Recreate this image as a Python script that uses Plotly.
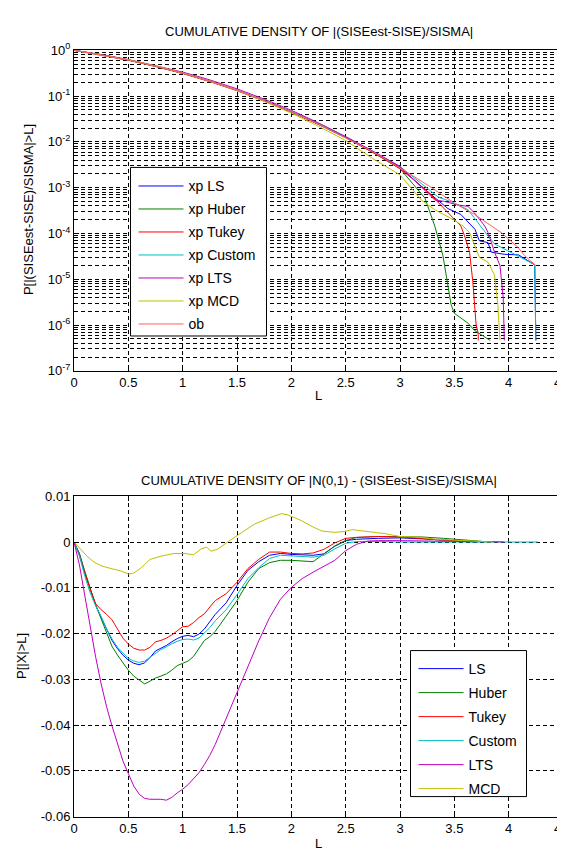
import plotly.graph_objects as go

# ---------------- Top chart data: P[|(SISEest-SISE)/SISMA|>L] ----------------
top_L_ls = [0, 0.25, 0.5, 0.75, 1.0, 1.25, 1.5, 1.75, 2.0, 2.25, 2.5, 2.75, 3.0,
            3.2, 3.44, 3.56, 3.69, 3.73, 3.81, 3.84, 3.96, 4.09, 4.22, 4.24, 4.25]
top_P_ls = [1.0, 0.80, 0.615, 0.452, 0.318, 0.212, 0.134, 0.080, 0.0458, 0.0246, 0.0125, 0.0061, 0.0028,
            1.05e-3, 3.5e-4, 2.6e-4, 1.23e-4, 6.9e-5, 6.3e-5, 3.9e-5, 3.5e-5, 3.4e-5, 2.2e-5, 2.0e-5, 4.6e-7]

top_L_huber = [0, 0.25, 0.5, 0.75, 1.0, 1.25, 1.5, 1.75, 2.0, 2.25, 2.5, 2.75, 3.0,
               3.23, 3.32, 3.395, 3.425, 3.44, 3.47, 3.50, 3.625, 3.686, 3.83]
top_P_huber = [1.0, 0.80, 0.612, 0.449, 0.315, 0.210, 0.133, 0.079, 0.0452, 0.0243, 0.0124, 0.0059, 0.0026,
               5.9e-4, 1.45e-4, 3.3e-5, 1.23e-5, 6.3e-6, 2.8e-6, 1.8e-6, 1.1e-6, 7.6e-7, 4.6e-7]

top_L_tukey = [0, 0.25, 0.5, 0.75, 1.0, 1.25, 1.5, 1.75, 2.0, 2.25, 2.5, 2.75, 3.0,
               3.25, 3.50, 3.56, 3.594, 3.64, 3.67, 3.70, 3.72, 3.72]
top_P_tukey = [1.0, 0.79, 0.605, 0.443, 0.311, 0.207, 0.131, 0.078, 0.0447, 0.0241, 0.0123, 0.0059, 0.0026,
               8.5e-4, 2.0e-4, 1.45e-4, 8.9e-5, 3.9e-5, 8.9e-6, 1.05e-6, 6.3e-7, 4.6e-7]

top_L_custom = [0, 0.25, 0.5, 0.75, 1.0, 1.25, 1.5, 1.75, 2.0, 2.25, 2.5, 2.75, 3.0,
                3.195, 3.35, 3.5, 3.625, 3.81, 3.87, 3.99, 4.115, 4.22, 4.24, 4.25]
top_P_custom = [1.0, 0.80, 0.614, 0.451, 0.317, 0.212, 0.134, 0.080, 0.0458, 0.0247, 0.0126, 0.0062, 0.0029,
                1.23e-3, 6.3e-4, 4.6e-4, 3.3e-4, 8.9e-5, 5.9e-5, 4.2e-5, 3.0e-5, 2.2e-5, 2.0e-5, 4.6e-7]

top_L_lts = [0, 0.25, 0.5, 0.75, 1.0, 1.25, 1.5, 1.75, 2.0, 2.25, 2.5, 2.75, 3.0,
             3.32, 3.41, 3.53, 3.625, 3.686, 3.78, 3.81, 3.87, 3.92, 3.95, 3.96]
top_P_lts = [1.0, 0.81, 0.63, 0.468, 0.335, 0.226, 0.144, 0.086, 0.049, 0.026, 0.0131, 0.0063, 0.0029,
             5.4e-4, 5.0e-4, 4.2e-4, 3.9e-4, 2.8e-4, 1.45e-4, 1.05e-4, 3.9e-5, 2.0e-5, 3.9e-6, 4.6e-7]

top_L_mcd = [0, 0.25, 0.5, 0.75, 1.0, 1.25, 1.5, 1.75, 2.0, 2.25, 2.5, 2.75, 3.0,
             3.195, 3.32, 3.5, 3.58, 3.64, 3.73, 3.81, 3.87, 3.90, 3.92]
top_P_mcd = [1.0, 0.80, 0.62, 0.457, 0.321, 0.213, 0.133, 0.077, 0.0425, 0.0220, 0.0107, 0.0043, 0.0019,
             5.4e-4, 3.3e-4, 1.95e-4, 1.45e-4, 1.05e-4, 3.0e-5, 2.35e-5, 1.23e-5, 2.8e-6, 4.6e-7]

top_L_ob = [0, 0.25, 0.5, 0.75, 1.0, 1.25, 1.5, 1.75, 2.0, 2.25, 2.5, 2.75, 3.0,
            3.26, 3.5, 3.686, 3.93, 4.085, 4.146, 4.25]
top_P_ob = [1.0, 0.80, 0.617, 0.455, 0.317, 0.211, 0.134, 0.080, 0.0455, 0.0244, 0.0124, 0.0061, 0.0027,
            1.12e-3, 4.6e-4, 2.6e-4, 1.05e-4, 5.0e-5, 3.3e-5, 2.0e-5]

# ---------------- Bottom chart data: P[|X|>L] difference ----------------
bot_L_ls = [0, 0.05, 0.1, 0.15, 0.2, 0.25, 0.3, 0.35, 0.4, 0.45, 0.5, 0.55, 0.6, 0.65, 0.7, 0.75, 0.8, 0.85,
            0.9, 0.95, 1.0, 1.05, 1.1, 1.15, 1.2, 1.25, 1.3, 1.4, 1.5, 1.6, 1.7, 1.8, 1.9, 2.0, 2.1, 2.2, 2.3,
            2.4, 2.5, 2.6, 2.8, 3.0, 3.2, 3.4, 3.6, 3.7]
bot_v_ls = [0, -0.0025, -0.0068, -0.0105, -0.0138, -0.0165, -0.0192, -0.0215, -0.0233, -0.0247, -0.0258,
            -0.0265, -0.0268, -0.0264, -0.0252, -0.0238, -0.0232, -0.0226, -0.0218, -0.0211, -0.0206, -0.0204,
            -0.0207, -0.0201, -0.0190, -0.0174, -0.0158, -0.0133, -0.0095, -0.0062, -0.0043, -0.0029, -0.0025,
            -0.0027, -0.0028, -0.0029, -0.0026, -0.0009, 0.0003, 0.0006, 0.0008, 0.0009, 0.0007, 0.0004, 0.0001, 0.0]

bot_L_huber = [0, 0.05, 0.1, 0.15, 0.2, 0.25, 0.3, 0.35, 0.4, 0.45, 0.5, 0.55, 0.6, 0.65, 0.7, 0.75, 0.8, 0.85,
               0.9, 0.95, 1.0, 1.05, 1.1, 1.15, 1.2, 1.25, 1.3, 1.4, 1.5, 1.6, 1.7, 1.8, 1.9, 2.0, 2.1, 2.2, 2.3,
               2.4, 2.5, 2.6, 2.8, 3.0, 3.2, 3.4, 3.6, 3.83]
bot_v_huber = [0, -0.0026, -0.0064, -0.0102, -0.0138, -0.0168, -0.0198, -0.0228, -0.0247, -0.0264, -0.0280,
               -0.0293, -0.0302, -0.0310, -0.0304, -0.0297, -0.0293, -0.0288, -0.0280, -0.0270, -0.0265, -0.0260,
               -0.0250, -0.0232, -0.0215, -0.0207, -0.0195, -0.0162, -0.0128, -0.0088, -0.0058, -0.0045, -0.0040,
               -0.0040, -0.0041, -0.0043, -0.0026, -0.0009, 0.0003, 0.0010, 0.0012, 0.0012, 0.0011, 0.0008, 0.0005, 0.0]

bot_L_tukey = [0, 0.05, 0.1, 0.15, 0.2, 0.25, 0.3, 0.35, 0.4, 0.45, 0.5, 0.55, 0.6, 0.65, 0.7, 0.75, 0.8, 0.85,
               0.9, 0.95, 1.0, 1.05, 1.1, 1.15, 1.2, 1.25, 1.3, 1.4, 1.5, 1.6, 1.7, 1.8, 1.9, 2.0, 2.1, 2.2, 2.3,
               2.4, 2.5, 2.6, 2.8, 3.0, 3.2, 3.4, 3.6, 3.72]
bot_v_tukey = [0, -0.0030, -0.0068, -0.0105, -0.0135, -0.0148, -0.0158, -0.0170, -0.0190, -0.0210, -0.0223,
               -0.0232, -0.0236, -0.0236, -0.0230, -0.0218, -0.0215, -0.0210, -0.0203, -0.0193, -0.0185, -0.0184,
               -0.0176, -0.0165, -0.0157, -0.0142, -0.0128, -0.0113, -0.0088, -0.0058, -0.0038, -0.0022, -0.0022,
               -0.0025, -0.0026, -0.0024, -0.0016, -0.0002, 0.0008, 0.0010, 0.0012, 0.0011, 0.0007, 0.0004, 0.0002, 0.0]

bot_L_custom = [0, 0.05, 0.1, 0.15, 0.2, 0.25, 0.3, 0.35, 0.4, 0.45, 0.5, 0.55, 0.6, 0.65, 0.7, 0.75, 0.8, 0.85,
                0.9, 0.95, 1.0, 1.05, 1.1, 1.15, 1.2, 1.25, 1.3, 1.4, 1.5, 1.6, 1.7, 1.8, 1.9, 2.0, 2.1, 2.2, 2.3,
                2.4, 2.5, 2.6, 2.8, 3.0, 3.5, 4.0, 4.27]
bot_v_custom = [0, -0.0030, -0.0075, -0.0112, -0.0140, -0.0163, -0.0190, -0.0212, -0.0230, -0.0243, -0.0254,
                -0.0260, -0.0263, -0.0260, -0.0252, -0.0243, -0.0235, -0.0229, -0.0222, -0.0217, -0.0213, -0.0212,
                -0.0214, -0.0210, -0.0199, -0.0187, -0.0172, -0.0148, -0.0115, -0.0080, -0.0056, -0.0036, -0.0029,
                -0.0030, -0.0032, -0.0033, -0.0029, -0.0015, -0.0003, 0.0001, 0.0001, 0.0, 0.0, 0.0, 0.0]

bot_L_lts = [0, 0.05, 0.1, 0.15, 0.2, 0.25, 0.3, 0.35, 0.4, 0.45, 0.5, 0.55, 0.6, 0.65, 0.7, 0.75, 0.8, 0.85,
             0.9, 0.95, 1.0, 1.05, 1.1, 1.15, 1.2, 1.25, 1.3, 1.4, 1.5, 1.6, 1.7, 1.8, 1.9, 2.0, 2.1, 2.2, 2.3,
             2.4, 2.5, 2.6, 2.7, 2.8, 3.0, 3.2, 3.4, 3.6, 3.8, 3.96]
bot_v_lts = [0, -0.0050, -0.0118, -0.0186, -0.0252, -0.0310, -0.0360, -0.0402, -0.0440, -0.0478, -0.0506,
             -0.0533, -0.0551, -0.0560, -0.0562, -0.0562, -0.0562, -0.0564, -0.0558, -0.0548, -0.0540, -0.0530,
             -0.0518, -0.0504, -0.0486, -0.0466, -0.0442, -0.0386, -0.0328, -0.0272, -0.0216, -0.0165, -0.0125,
             -0.0099, -0.0080, -0.0066, -0.0053, -0.0040, -0.0019, -0.0005, 0.0002, 0.0003, 0.0003, 0.0002,
             0.0002, 0.0001, 0.0001, 0.0]

bot_L_mcd = [0, 0.06, 0.12, 0.185, 0.25, 0.34, 0.43, 0.5, 0.55, 0.62, 0.7, 0.8, 0.92, 1.02, 1.1, 1.17, 1.22,
             1.26, 1.32, 1.42, 1.54, 1.66, 1.79, 1.91, 1.97, 2.09, 2.19, 2.28, 2.4, 2.49, 2.56, 2.7, 2.87, 3.0,
             3.15, 3.33, 3.55, 3.8, 3.85]
bot_v_mcd = [0, -0.0016, -0.0031, -0.0044, -0.0052, -0.0058, -0.0063, -0.0070, -0.0068, -0.0056, -0.0038,
             -0.0031, -0.0025, -0.0025, -0.0028, -0.0015, -0.0011, -0.0020, -0.0016, 0.0001, 0.0021, 0.0039,
             0.0052, 0.0062, 0.0059, 0.0047, 0.0034, 0.0024, 0.0021, 0.0023, 0.0027, 0.0023, 0.0018, 0.0012,
             0.0011, 0.0006, 0.0003, 0.0001, 0.0]

top_names = ["xp LS", "xp Huber", "xp Tukey", "xp Custom", "xp LTS", "xp MCD", "ob"]
bot_names = ["LS", "Huber", "Tukey", "Custom", "LTS", "MCD"]
colors = ["#0000FF", "#008000", "#FF0000", "#00BFBF", "#BF00BF", "#BFBF00", "#FF6060"]

x_ticks = [0, 0.5, 1, 1.5, 2, 2.5, 3, 3.5, 4, 4.5]
x_ticktext = ["0", "0.5", "1", "1.5", "2", "2.5", "3", "3.5", "4", "4.5"]
top_ytick_exp = [0, -1, -2, -3, -4, -5, -6, -7]
bot_yticks = [0.01, 0, -0.01, -0.02, -0.03, -0.04, -0.05, -0.06]
bot_yticktext = ["0.01", "0", "-0.01", "-0.02", "-0.03", "-0.04", "-0.05", "-0.06"]

top_series = [(top_L_ls, top_P_ls), (top_L_huber, top_P_huber), (top_L_tukey, top_P_tukey),
              (top_L_custom, top_P_custom), (top_L_lts, top_P_lts), (top_L_mcd, top_P_mcd),
              (top_L_ob, top_P_ob)]
bot_series = [(bot_L_ls, bot_v_ls), (bot_L_huber, bot_v_huber), (bot_L_tukey, bot_v_tukey),
              (bot_L_custom, bot_v_custom), (bot_L_lts, bot_v_lts), (bot_L_mcd, bot_v_mcd)]

FONT = "Liberation Sans, Arial, Helvetica, sans-serif"
W, H = 565, 850
ML, MR = 66, 10
PW = W - ML - MR

def px_x(X):
    return (X - ML) / PW

def px_y(Y):
    return 1 - Y / H

fig = go.Figure()
for i, (name, (xs, ys)) in enumerate(zip(top_names, top_series)):
    fig.add_trace(go.Scatter(x=xs, y=ys, mode="lines", name=name,
                             line=dict(color=colors[i], width=1),
                             xaxis="x", yaxis="y", legend="legend", legendgroup="t" + str(i)))
for i, (name, (xs, ys)) in enumerate(zip(bot_names, bot_series)):
    fig.add_trace(go.Scatter(x=xs, y=ys, mode="lines", name=name,
                             line=dict(color=colors[i], width=1),
                             xaxis="x2", yaxis="y2", legend="legend2", legendgroup="b" + str(i)))

GRID = dict(showgrid=True, gridcolor="black", gridwidth=1, griddash="4px,3px")
AX = dict(showline=True, linecolor="black", linewidth=1, mirror="allticks", ticks="inside",
          ticklen=5, tickcolor="black", zeroline=False,
          tickfont=dict(family=FONT, size=13, color="black"), **GRID)

minor_vals = [m * 10.0 ** e for e in range(-7, 0) for m in range(2, 10)]

LEG = dict(xanchor="left", yanchor="top", bgcolor="rgba(0,0,0,0)", borderwidth=0,
           font=dict(family=FONT, size=14, color="black"), itemwidth=45, traceorder="grouped")

fig.update_layout(
    width=W, height=H,
    margin=dict(l=ML, r=MR, t=0, b=0),
    paper_bgcolor="white", plot_bgcolor="white",
    font=dict(family=FONT, size=13, color="black"),
    showlegend=True,
    xaxis=dict(domain=[0, 1], range=[0, 4.5], tickvals=x_ticks, ticktext=x_ticktext,
               anchor="y", **AX),
    yaxis=dict(domain=[px_y(361), px_y(34)], type="log", range=[-7, 0],
               tickvals=[10.0 ** e for e in top_ytick_exp],
               ticktext=["10<sup>%d</sup>" % e for e in top_ytick_exp],
               anchor="x",
               minor=dict(tickmode="array", tickvals=minor_vals, showgrid=True, gridcolor="black",
                          gridwidth=1, griddash="4px,3px", ticks="inside", ticklen=3, tickcolor="black"),
               **AX),
    xaxis2=dict(domain=[0, 1], range=[0, 4.5], tickvals=x_ticks, ticktext=x_ticktext,
                anchor="y2", **AX),
    yaxis2=dict(domain=[px_y(816), px_y(489)], range=[-0.06, 0.01], tickvals=bot_yticks,
                ticktext=bot_yticktext, anchor="x2", **AX),
    legend=dict(x=px_x(125.5), y=px_y(156.5), tracegroupgap=1.8, **LEG),
    legend2=dict(x=px_x(405.5), y=px_y(649), tracegroupgap=2.8, **LEG),
)

# opaque legend boxes (drawn above the grid, legend entries sit on top)
for (x0, x1, y0, y1) in [(122.5, 258.5, 153.5, 325.5), (402.5, 518.5, 646.5, 795.5)]:
    fig.add_shape(type="rect", xref="paper", yref="paper", layer="above",
                  x0=px_x(x0), x1=px_x(x1), y0=px_y(y1), y1=px_y(y0),
                  fillcolor="white", line=dict(color="black", width=1))

annots = [
    dict(text="CUMULATIVE DENSITY OF |(SISEest-SISE)/SISMA|", x=0.5, y=px_y(15)),
    dict(text="CUMULATIVE DENSITY OF |N(0,1) - (SISEest-SISE)/SISMA|", x=0.5, y=px_y(473)),
    dict(text="L", x=0.5, y=px_y(386)),
    dict(text="L", x=0.5, y=px_y(843)),
    dict(text="P[|(SISEest-SISE)/SISMA|>L]", x=px_x(20), y=px_y(197), textangle=-90),
    dict(text="P[|X|>L]", x=px_x(14), y=px_y(652), textangle=-90),
]
for a in annots:
    fig.add_annotation(xref="paper", yref="paper", showarrow=False, xanchor="center", yanchor="middle",
                       font=dict(family=FONT, size=13, color="black"), **a)

fig.write_html("out.html")
